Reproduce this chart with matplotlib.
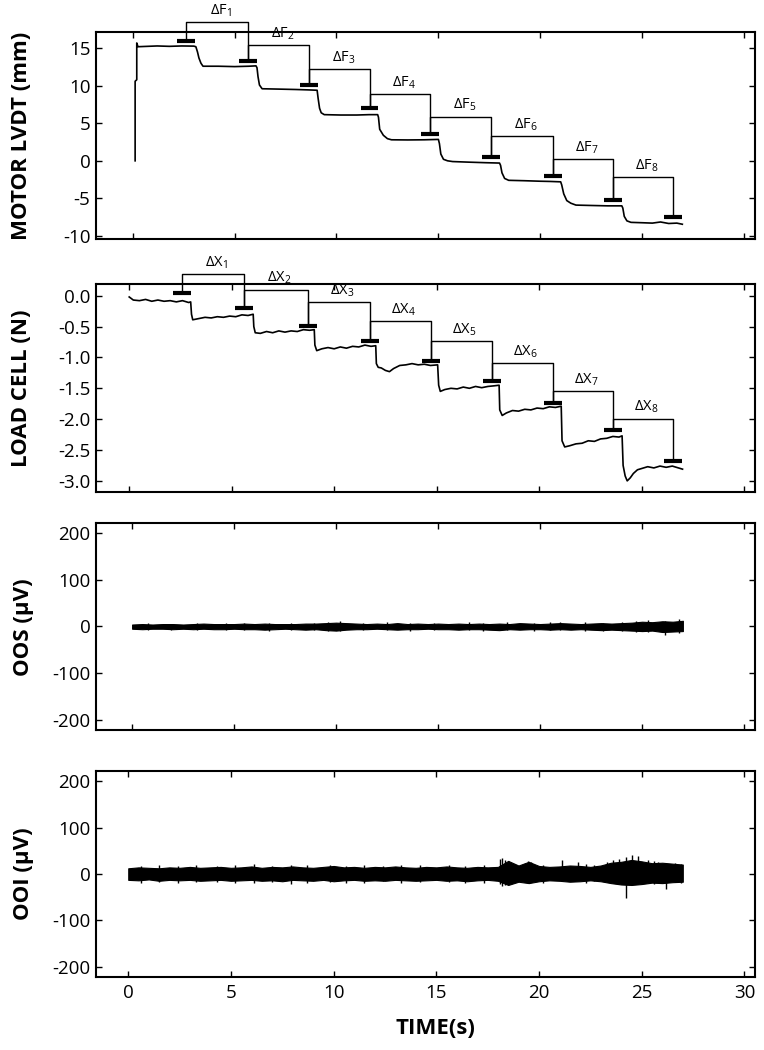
import matplotlib
matplotlib.use('Agg')
import matplotlib.pyplot as plt
import numpy as np

plt.rcParams['font.family'] = ['Open Sans', 'DejaVu Sans']
plt.rcParams['axes.unicode_minus'] = False

# ---- motor LVDT (mm)
lvdt_t = [0.12, 0.12, 0.2, 0.2, 0.26, 1.2, 1.8, 2.4, 3.0, 3.1, 3.18, 3.25, 3.35, 3.45, 4.2, 5.0, 5.7, 6.05,
          6.1, 6.15, 6.22, 6.35, 7.2, 8.0, 8.6, 9.05,
          9.1, 9.17, 9.25, 9.4, 10.2, 11.0, 11.6, 12.02,
          12.06, 12.12, 12.3, 12.5, 12.7, 13.5, 14.3, 15.0,
          15.05, 15.12, 15.25, 15.45, 15.7, 16.5, 17.3, 18.0,
          18.05, 18.12, 18.25, 18.45, 19.2, 20.0, 20.5, 21.0,
          21.05, 21.15, 21.3, 21.5, 21.75, 22.5, 23.3, 24.0,
          24.05, 24.12, 24.25, 24.45, 25.0, 25.5, 25.9, 26.3, 26.7, 26.97]
lvdt_mm = [0.0, 10.6, 10.8, 15.7, 15.2, 15.3, 15.25, 15.3, 15.28, 15.2, 14.5, 13.7, 13.0, 12.6, 12.6, 12.55, 12.6, 12.65,
           12.4, 11.2, 10.1, 9.6, 9.55, 9.5, 9.45, 9.4,
           8.3, 7.0, 6.4, 6.15, 6.1, 6.1, 6.15, 6.15,
           5.8, 4.2, 3.4, 2.95, 2.8, 2.78, 2.8, 2.85,
           2.3, 0.9, 0.2, 0.0, -0.1, -0.18, -0.25, -0.3,
           -0.6, -1.6, -2.35, -2.6, -2.65, -2.72, -2.75, -2.8,
           -3.2, -4.4, -5.3, -5.65, -5.9, -5.95, -6.0, -6.0,
           -6.3, -7.4, -8.0, -8.2, -8.25, -8.3, -8.15, -8.35, -8.3, -8.45]

f_centers = [2.63, 5.64, 8.65, 11.62, 14.6, 17.6, 20.62, 23.55, 26.5]
f_bars = [15.97, 13.3, 10.15, 7.0, 3.53, 0.47, -2.03, -5.2, -7.53]
f_tops = [18.47, 15.44, 12.2, 8.87, 5.88, 3.27, 0.2, -2.2]

# ---- load cell (N)
lc_t = [0.0, 0.2, 0.5, 0.8, 1.1, 1.4, 1.7, 2.0, 2.3, 2.6, 2.9, 3.0,
        3.04, 3.1, 3.4, 3.7, 4.0, 4.3, 4.6, 4.9, 5.2, 5.5, 5.8, 6.05,
        6.08, 6.15, 6.4, 6.7, 7.0, 7.3, 7.6, 7.9, 8.2, 8.5, 8.8, 9.03,
        9.06, 9.15, 9.4, 9.7, 10.0, 10.3, 10.6, 10.9, 11.2, 11.5, 11.8, 12.03,
        12.06, 12.15, 12.3, 12.5, 12.7, 12.9, 13.2, 13.5, 13.8, 14.1, 14.4, 14.7, 15.05,
        15.1, 15.18, 15.4, 15.7, 16.0, 16.3, 16.6, 16.9, 17.2, 17.5, 17.8, 18.05,
        18.08, 18.2, 18.4, 18.7, 19.0, 19.3, 19.6, 19.9, 20.2, 20.5, 20.8, 21.08,
        21.12, 21.25, 21.5, 21.8, 22.1, 22.4, 22.7, 23.0, 23.3, 23.6, 23.9, 24.05,
        24.1, 24.2, 24.3, 24.45, 24.6, 24.8, 25.0, 25.3, 25.6, 25.9, 26.2, 26.5, 26.8, 27.0]
lc_n = [-0.02, -0.07, -0.08, -0.06, -0.09, -0.07, -0.09, -0.08, -0.1, -0.08, -0.11, -0.1,
        -0.3, -0.39, -0.37, -0.35, -0.36, -0.34, -0.35, -0.33, -0.34, -0.31, -0.32, -0.3,
        -0.5, -0.6, -0.61, -0.58, -0.6, -0.57, -0.59, -0.57, -0.58, -0.55, -0.56, -0.55,
        -0.8, -0.89, -0.86, -0.84, -0.86, -0.83, -0.85, -0.82, -0.83, -0.8, -0.82, -0.81,
        -1.1, -1.16, -1.17, -1.21, -1.23, -1.18, -1.13, -1.12, -1.1, -1.12, -1.11, -1.13, -1.12,
        -1.45, -1.55, -1.52, -1.5, -1.51, -1.48, -1.5, -1.47, -1.49, -1.47, -1.46, -1.45,
        -1.85, -1.94, -1.9, -1.86, -1.87, -1.84, -1.85, -1.82, -1.83, -1.8, -1.81, -1.79,
        -2.35, -2.45, -2.43, -2.4, -2.39, -2.35, -2.36, -2.32, -2.31, -2.28, -2.29, -2.27,
        -2.75, -2.92, -3.0, -2.95, -2.88, -2.82, -2.8, -2.77, -2.79, -2.76, -2.78, -2.76, -2.79, -2.81]

x_centers = [2.58, 5.59, 8.72, 11.73, 14.71, 17.69, 20.7, 23.63, 26.55]
x_bars = [0.04, -0.2, -0.49, -0.74, -1.06, -1.38, -1.73, -2.18, -2.67]
x_tops = [0.35, 0.10, -0.1, -0.41, -0.73, -1.09, -1.54, -1.99]

# ---- OOS / OOI envelopes (uV), sampled every 0.5 s from 0 to 27 s
env_t = np.arange(0, 27.01, 0.5)
oos_hi = [4, 5, 4, 5, 5, 4, 5, 6, 5, 5, 5, 6, 5, 6, 5, 5, 5, 6, 6, 7, 8, 7, 6, 5, 6, 5, 7, 5,
          6, 5, 6, 5, 6, 5, 6, 5, 6, 5, 7, 6, 5, 6, 7, 6, 5, 6, 7, 6, 7, 8, 10, 9, 11, 10, 12]
oos_lo = [-5, -6, -5, -5, -6, -5, -6, -5, -6, -6, -5, -6, -6, -7, -6, -5, -6, -7, -6, -8, -9, -7,
          -6, -6, -5, -6, -7, -6, -6, -5, -6, -6, -7, -6, -6, -7, -8, -6, -7, -6, -6, -7, -6, -7,
          -6, -7, -8, -7, -8, -9, -10, -9, -12, -11, -10]
oos_spk_t = [0.8, 1.9, 3.2, 4.6, 5.5, 6.7, 7.8, 8.9, 9.6, 10.2, 11.3, 12.5, 13.6, 14.8, 16.5,
             17.2, 18.4, 19.7, 20.5, 21.0, 22.2, 23.1, 24.0, 24.7, 25.3, 26.1, 26.8]
oos_spk_lo = [-7, -8, -7, -8, -7, -9, -8, -7, -9, -10, -8, -8, -9, -8, -8,
              -9, -8, -9, -8, -8, -9, -9, -10, -11, -12, -18, -14]
oos_spk_hi = [7, 6, 8, 7, 8, 7, 8, 7, 9, 11, 8, 9, 8, 7, 9,
              8, 9, 8, 9, 10, 9, 8, 10, 11, 14, 12, 15]

ooi_hi = [12, 14, 13, 12, 14, 13, 15, 13, 14, 15, 13, 14, 16, 13, 15, 14, 16, 14, 13, 15, 17, 14,
          15, 13, 15, 14, 16, 14, 13, 15, 14, 16, 14, 13, 15, 14, 15, 28, 18, 26, 17, 15, 16, 18,
          17, 15, 18, 24, 26, 30, 27, 23, 24, 22, 20]
ooi_lo = [-13, -14, -12, -15, -13, -14, -13, -15, -14, -13, -15, -14, -13, -15, -14, -16, -13, -14,
          -15, -13, -16, -14, -13, -15, -14, -15, -13, -14, -15, -14, -13, -15, -14, -16, -14, -13,
          -15, -24, -17, -20, -16, -14, -15, -17, -16, -14, -16, -20, -23, -24, -22, -19, -20, -18, -17]
ooi_spk_t = [0.6, 1.5, 2.4, 3.3, 4.3, 5.2, 6.1, 7.0, 7.9, 8.7, 9.8, 10.6, 11.5, 12.4, 13.3,
             14.2, 15.6, 16.4, 17.3, 18.1, 18.2, 18.35, 18.6, 19.3, 19.45, 19.6, 20.2, 21.1,
             21.9, 22.3, 22.7, 23.3, 23.6, 23.9, 24.25, 24.55, 24.8, 25.3, 25.6, 25.8, 26.2,
             26.6, 26.9]
ooi_spk_lo = [-19, -18, -20, -17, -18, -20, -19, -18, -21, -19, -17, -20, -19, -16, -19,
              -18, -17, -20, -19, -22, -26, -24, -20, -18, -20, -17, -19, -15,
              -14, -20, -15, -18, -20, -22, -53, -24, -22, -20, -22, -18, -33,
              -18, -20]
ooi_spk_hi = [18, 20, 17, 19, 18, 19, 21, 18, 19, 20, 19, 18, 20, 18, 19,
              20, 19, 18, 20, 32, 34, 30, 24, 24, 27, 25, 20, 30,
              25, 21, 20, 26, 30, 33, 36, 40, 38, 30, 28, 25, 24,
              24, 22]

fig = plt.figure(figsize=(7.64, 10.5), dpi=100)
W, H = 764.0, 1050.0


def make_ax(top_px, bot_px, xlim):
    ax = fig.add_axes([96 / W, 1 - bot_px / H, (755.3 - 96) / W, (bot_px - top_px) / H])
    ax.set_xlim(*xlim)
    ax.set_xticks([0, 5, 10, 15, 20, 25, 30])
    ax.tick_params(direction='in', top=True, right=True, length=4, width=1,
                   labelsize=13.5, pad=5)
    ax.tick_params(axis='y', pad=4)
    for s in ax.spines.values():
        s.set_linewidth(1.5)
    return ax


def brackets(ax, centers, bars, tops, sym, dx):
    for c, y in zip(centers, bars):
        ax.plot([c - 0.44, c + 0.44], [y, y], color='k', lw=3, solid_capstyle='butt', clip_on=False)
    for i, h in enumerate(tops):
        ax.plot([centers[i], centers[i], centers[i + 1], centers[i + 1]],
                [bars[i], h, h, bars[i + 1]], color='k', lw=1.0, clip_on=False)
        ax.annotate(r'$\mathregular{\Delta %s_{%d}}$' % (sym, i + 1),
                    xy=((centers[i] + centers[i + 1]) / 2 + dx, h), xytext=(0, 5.5),
                    textcoords='offset points', ha='center', va='baseline',
                    fontsize=10.5, annotation_clip=False)


# top: motor LVDT
ax1 = make_ax(31.7, 238.5, (-1.8, 30.55))
ax1.plot(lvdt_t, lvdt_mm, color='k', lw=1.2)
ax1.set_ylim(-10.35, 17.2)
ax1.set_yticks([-10, -5, 0, 5, 10, 15])
ax1.set_xticklabels([])
brackets(ax1, f_centers, f_bars, f_tops, 'F', 0.2)

# load cell
ax2 = make_ax(284.3, 492.0, (-1.62, 30.55))
ax2.plot(lc_t, lc_n, color='k', lw=1.2)
ax2.set_ylim(-3.18, 0.185)
ax2.set_yticks([0.0, -0.5, -1.0, -1.5, -2.0, -2.5, -3.0])
ax2.set_yticklabels(['0.0', '-0.5', '-1.0', '-1.5', '-2.0', '-2.5', '-3.0'])
ax2.set_xticklabels([])
brackets(ax2, x_centers, x_bars, x_tops, 'X', 0.15)

# OOS
ax3 = make_ax(522.5, 730.3, (-1.77, 30.55))
ax3.fill_between(env_t, oos_lo, oos_hi, color='k', lw=0.8)
ax3.vlines(oos_spk_t, oos_spk_lo, oos_spk_hi, color='k', lw=1)
ax3.set_ylim(-222, 222)
ax3.set_yticks([-200, -100, 0, 100, 200])
ax3.set_xticklabels([])

# OOI
ax4 = make_ax(771.0, 976.7, (-1.57, 30.53))
ax4.fill_between(env_t, ooi_lo, ooi_hi, color='k', lw=0.8)
ax4.vlines(ooi_spk_t, ooi_spk_lo, ooi_spk_hi, color='k', lw=1)
ax4.set_ylim(-222, 222)
ax4.set_yticks([-200, -100, 0, 100, 200])

# axis titles
lab = dict(rotation=90, ha='center', va='center', fontsize=16, fontweight='bold')
fig.text(22 / W, 1 - 136 / H, 'MOTOR LVDT (mm)', **lab)
fig.text(22 / W, 1 - 388 / H, 'LOAD CELL (N)', **lab)
fig.text(24 / W, 1 - 627 / H, 'OOS (µV)', **lab)
fig.text(24 / W, 1 - 874 / H, 'OOI (µV)', **lab)
fig.text(435 / W, 1 - 1028 / H, 'TIME(s)', ha='center', va='center', fontsize=16, fontweight='bold')

fig.savefig('out.png', dpi=100)
